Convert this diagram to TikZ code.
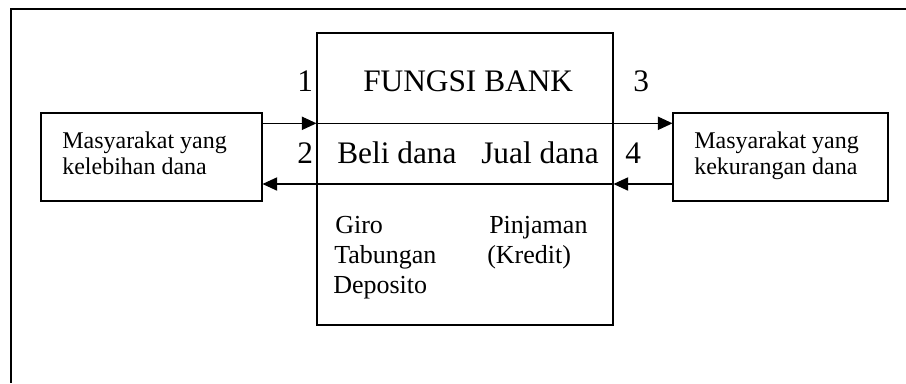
\documentclass[tikz,border=0pt]{standalone}
\usepackage{fontspec}
\setmainfont{Liberation Serif}
\usetikzlibrary{arrows.meta}
\begin{document}
\begin{tikzpicture}[x=0.75pt,y=-0.75pt,
  box/.style={draw,line width=0.8pt,rectangle,inner sep=0pt},
  flow/.style={line width=0.8pt,-{Triangle[length=11pt,width=10pt]}},
  big/.style={font=\fontsize{23.5}{26}\selectfont,inner sep=0pt,anchor=base west},
  mid/.style={font=\fontsize{19.5}{22}\selectfont,inner sep=0pt,anchor=base west},
  small/.style={font=\fontsize{18}{19.5}\selectfont,inner sep=0pt,anchor=base west}]
\useasboundingbox (0,0) rectangle (906,383);

% open frame along the top and left edges
\draw[line width=1.6pt] (906,9) -- (11,9) -- (11,383);

% the three boxes
\node[box,minimum width=222pt,minimum height=219pt] (bank) at (465,179) {};
\node[box,minimum width=165.75pt,minimum height=66pt] (surplus) at (151.5,157) {};
\node[box,minimum width=161.25pt,minimum height=66pt] (deficit) at (780.5,157) {};

% rows of the flows
\coordinate (rowA) at (0,123.3);
\coordinate (rowB) at (0,184);

% funds in from the surplus side, lent out to the deficit side
\draw[flow] (surplus.east |- rowA) -- (bank.west |- rowA);
\draw[flow] (bank.west |- rowA) -- (deficit.west |- rowA);
% flows back
\draw[flow] (deficit.west |- rowB) -- (bank.east |- rowB);
\draw[flow] (bank.east |- rowB) -- (surplus.east |- rowB);

% labels
\node[big] (n1) at (297,91) {1};
\node[big] (title) at (363,91) {FUNGSI BANK};
\node[big] (n3) at (633,91) {3};
\node[big] (n2) at (297,163) {2};
\node[big] (beli) at (337,163) {Beli dana};
\node[big] (jual) at (481,163) {Jual dana};
\node[big] (n4) at (625,163) {4};

\node[small] (s1) at (62,148) {Masyarakat yang};
\node[small] (s2) at (62,174) {kelebihan dana};
\node[small] (d1) at (694,148) {Masyarakat yang};
\node[small] (d2) at (694,174) {kekurangan dana};

\node[mid] (giro) at (335,233) {Giro};
\node[mid] (tab) at (334,263) {Tabungan};
\node[mid] (dep) at (333,293) {Deposito};
\node[mid] (pin) at (489,233) {Pinjaman};
\node[mid] (kre) at (487,263) {(Kredit)};
\end{tikzpicture}
\end{document}
